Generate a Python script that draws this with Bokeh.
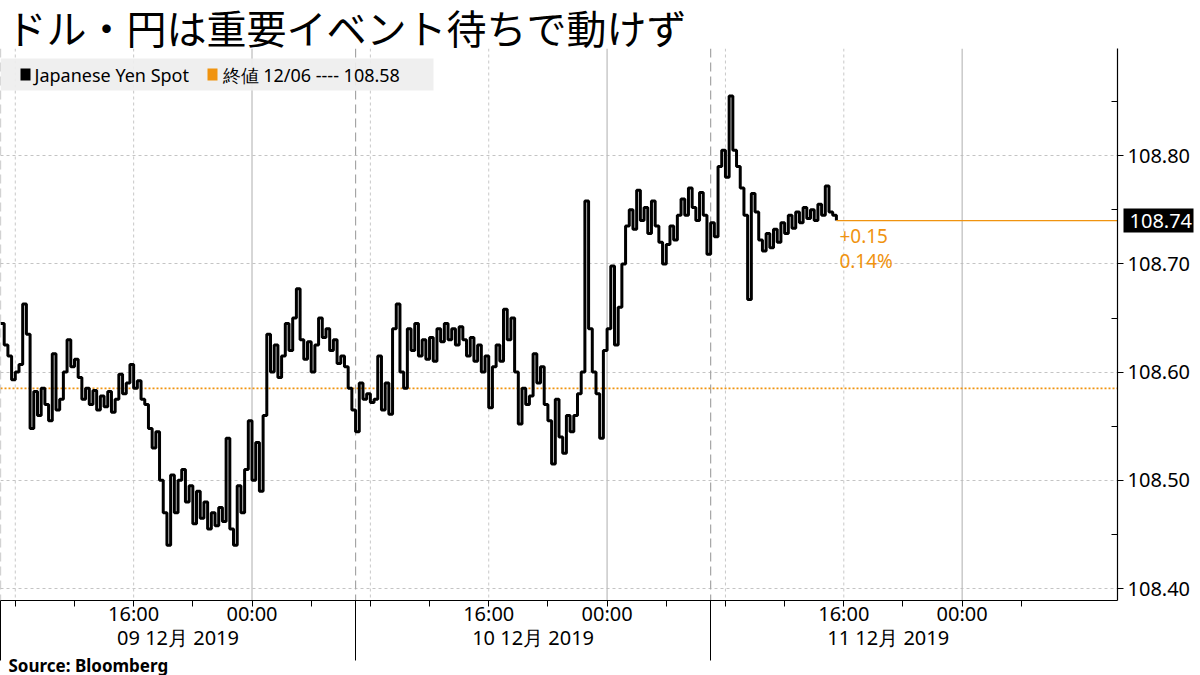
import pandas as pd
from bokeh.plotting import figure
from bokeh.models import (FixedTicker, Span, Label, BoxAnnotation, NumeralTickFormatter,
                          LinearAxis, Title)
from bokeh.embed import file_html
from bokeh.resources import INLINE

# ---------------- data ----------------
title_text = "ドル・円は重要イベント待ちで動けず"
series_name = "Japanese Yen Spot"
prev_close_text = "終値 12/06 ---- 108.58"
prev_close = 108.585
last_value = 108.74
change_abs = "+0.15"
change_pct = "0.14%"
source_text = "Source:  Bloomberg"

start_time = "2019-12-09 07:00"
step = "15min"
usdjpy = [
    108.645, 108.625, 108.615, 108.593,   # 12/09 07h
    108.600, 108.607, 108.663, 108.635,
    108.548, 108.582, 108.560, 108.585,
    108.570, 108.555, 108.617, 108.565,
    108.575, 108.600, 108.630, 108.605,
    108.612, 108.595, 108.575, 108.585,
    108.570, 108.583, 108.565, 108.578,
    108.568, 108.582, 108.563, 108.575,
    108.598, 108.580, 108.590, 108.607,   # 15h
    108.585, 108.592, 108.575, 108.570,
    108.548, 108.530, 108.545, 108.500,
    108.470, 108.440, 108.505, 108.470,
    108.500, 108.510, 108.480, 108.495,
    108.460, 108.490, 108.465, 108.480,
    108.455, 108.470, 108.458, 108.475,
    108.462, 108.539, 108.455, 108.440,
    108.495, 108.470, 108.510, 108.555,   # 23h
    108.500, 108.535, 108.490, 108.560,   # 12/10 00h
    108.635, 108.600, 108.625, 108.595,
    108.615, 108.645, 108.620, 108.650,
    108.677, 108.630, 108.612, 108.628,
    108.600, 108.625, 108.650, 108.632,
    108.640, 108.620, 108.630, 108.608,
    108.615, 108.605, 108.585, 108.565,
    108.545, 108.590, 108.575, 108.580,   # 07h
    108.572, 108.575, 108.615, 108.565,
    108.590, 108.561, 108.640, 108.663,
    108.600, 108.585, 108.640, 108.620,
    108.645, 108.615, 108.630, 108.612,
    108.632, 108.610, 108.640, 108.628,
    108.645, 108.630, 108.640, 108.625,
    108.642, 108.630, 108.615, 108.632,
    108.610, 108.625, 108.600, 108.615,
    108.567, 108.605, 108.625, 108.610,   # 16h
    108.658, 108.630, 108.650, 108.600,
    108.552, 108.585, 108.570, 108.578,
    108.617, 108.590, 108.605, 108.570,
    108.555, 108.515, 108.575, 108.540,
    108.525, 108.560, 108.545, 108.560,
    108.580, 108.600, 108.758, 108.640,
    108.600, 108.580, 108.539, 108.620,
    108.640, 108.698, 108.625, 108.660,   # 12/11 00h
    108.700, 108.735, 108.750, 108.732,
    108.768, 108.740, 108.752, 108.728,
    108.758, 108.735, 108.720, 108.700,
    108.718, 108.735, 108.722, 108.745,
    108.760, 108.745, 108.770, 108.752,
    108.740, 108.766, 108.745, 108.709,
    108.738, 108.725, 108.790, 108.805,   # 07h
    108.780, 108.855, 108.805, 108.790,
    108.770, 108.745, 108.667, 108.765,
    108.748, 108.722, 108.712, 108.728,
    108.715, 108.732, 108.720, 108.738,
    108.728, 108.745, 108.733, 108.748,
    108.738, 108.752, 108.742, 108.750,
    108.740, 108.755, 108.745, 108.772,
    108.748, 108.745, 108.740,            # 15h
]
times = pd.date_range(start_time, periods=len(usdjpy), freq=step)

y_ticks = [108.40, 108.50, 108.60, 108.70, 108.80]
y_minor = [108.45, 108.55, 108.65, 108.75, 108.85]
y_lo, y_hi = 108.389, 108.899
x_lo, x_hi = pd.Timestamp("2019-12-09 07:00"), pd.Timestamp("2019-12-12 10:30")

day_starts = pd.to_datetime(["2019-12-09 07:00", "2019-12-10 07:00", "2019-12-11 07:00"])
day_mids = pd.to_datetime(["2019-12-09 19:00", "2019-12-10 19:00", "2019-12-11 19:00"])
date_label_texts = ["09 12月 2019", "10 12月 2019", "11 12月 2019"]
midnights = pd.to_datetime(["2019-12-10 00:00", "2019-12-11 00:00", "2019-12-12 00:00"])
dotted_times = pd.to_datetime(["2019-12-09 08:00", "2019-12-09 16:00", "2019-12-10 08:00",
                               "2019-12-10 16:00", "2019-12-11 08:00", "2019-12-11 16:00"])
x_tick_times = pd.date_range("2019-12-09 08:00", "2019-12-12 04:00", freq="4h")
x_tick_labels = {"16:00": "16:00", "00:00": "00:00"}

EPOCH = pd.Timestamp("1970-01-01")
def ms(t):
    return int((pd.Timestamp(t) - EPOCH) // pd.Timedelta("1ms"))

ORANGE = "#f0930f"
JP = "Noto Sans CJK JP"
LAT = "Noto Sans"

# ---------------- layout numbers ----------------
W, H = 1200, 675
FRAME_W = 1117
TOP, BOTTOM = 48, 600

p = figure(width=W, height=H, x_axis_type="datetime", y_axis_location="right",
           x_range=(ms(x_lo), ms(x_hi)), y_range=(y_lo, y_hi),
           output_backend="svg", toolbar_location=None,
           min_border_left=0, min_border_right=W - FRAME_W,
           min_border_top=TOP, min_border_bottom=H - BOTTOM)
p.outline_line_color = None
p.background_fill_color = "white"
p.border_fill_color = "white"

# title
p.title.text = title_text
p.title.align = "left"
p.title.offset = 6
p.title.standoff = -14
p.title.text_font = JP
p.title.text_font_size = "40px"
p.title.text_font_style = "normal"
p.title.text_color = "black"

# grids
p.xgrid.visible = False
p.ygrid.ticker = FixedTicker(ticks=y_ticks)
p.ygrid.grid_line_color = "#c4c4c4"
p.ygrid.grid_line_dash = "3 3"
p.ygrid.grid_line_width = 1

for t in dotted_times:
    p.add_layout(Span(location=ms(t), dimension="height", line_color="#c8c8c8",
                      line_dash="3 3", line_width=1, level="underlay"))
for t in midnights:
    p.add_layout(Span(location=ms(t), dimension="height", line_color="#bcbcbc",
                      line_width=1.2, level="underlay"))
for t in day_starts:
    p.add_layout(Span(location=ms(t), dimension="height", line_color="#a5a5a5",
                      line_dash="9 5", line_width=1.2, level="underlay"))

p.add_layout(Span(location=prev_close, dimension="width", line_color=ORANGE,
                  line_dash="2 2", line_width=1.6, level="underlay"))

# data
p.step(x=times, y=usdjpy, mode="after", line_color="black", line_width=3)
p.segment(x0=[ms(times[-1])], y0=[last_value], x1=[ms(x_hi)], y1=[last_value],
          line_color=ORANGE, line_width=1.3)

# primary x axis: 4-hour ticks, 16:00/00:00 labels, long day separators (minor ticks
# drawn outward through a negative inward length so they do not push the labels down)
xa = p.xaxis[0]
xa.ticker = FixedTicker(ticks=[ms(t) for t in x_tick_times],
                        minor_ticks=[ms(t) for t in day_starts])
xa.major_label_overrides = {ms(t): x_tick_labels.get(t.strftime("%H:%M"), "")
                            for t in x_tick_times}
xa.major_tick_out = 6
xa.major_tick_in = 0
xa.minor_tick_out = 0
xa.minor_tick_in = -60
xa.major_label_standoff = -7
xa.major_label_text_font = LAT
xa.major_label_text_font_size = "20px"
xa.major_label_text_color = "black"
xa.axis_line_color = "black"
xa.major_tick_line_color = "black"
xa.minor_tick_line_color = "black"
xa.minor_tick_line_width = 1
xa.axis_line_width = 1.2

# date labels (second axis below)
date_axis = LinearAxis(ticker=FixedTicker(ticks=[ms(t) for t in day_mids], minor_ticks=[]),
                       major_label_overrides={ms(t): s for t, s in zip(day_mids, date_label_texts)},
                       major_tick_out=0, major_tick_in=0, minor_tick_out=0, minor_tick_in=0,
                       major_tick_line_color=None, minor_tick_line_color=None,
                       axis_line_color=None, major_label_standoff=-6,
                       major_label_text_font=LAT, major_label_text_font_size="20px",
                       major_label_text_color="black")
p.add_layout(date_axis, "below")

# source
p.add_layout(Title(text=source_text, align="left", offset=8, standoff=-4,
                   text_font=LAT, text_font_size="17px", text_font_style="bold",
                   text_color="black"), "below")

# y axis
ya = p.yaxis[0]
ya.ticker = FixedTicker(ticks=y_ticks, minor_ticks=y_minor)
ya.formatter = NumeralTickFormatter(format="0.00")
ya.major_tick_out = 6
ya.major_tick_in = 0
ya.minor_tick_in = 6
ya.minor_tick_out = 0
ya.major_label_standoff = 4
ya.major_label_text_font = LAT
ya.major_label_text_font_size = "20px"
ya.major_label_text_color = "black"
ya.axis_line_color = "black"
ya.axis_line_width = 1.2
ya.major_tick_line_color = "black"
ya.minor_tick_line_color = "black"

# last value tag: an outer right axis whose single tick reaches back over the label column
tag_axis = LinearAxis(ticker=FixedTicker(ticks=[last_value], minor_ticks=[]),
                      formatter=NumeralTickFormatter(format="0.00"),
                      major_tick_out=0, major_tick_in=70, minor_tick_out=0, minor_tick_in=0,
                      major_tick_line_color="black", major_tick_line_width=24,
                      major_tick_line_cap="butt", axis_line_color=None,
                      major_label_standoff=-64,
                      major_label_text_font=LAT, major_label_text_font_size="20px",
                      major_label_text_color="white")
p.add_layout(tag_axis, "right")

# legend (inside the frame, screen units from frame bottom-left)
def sy(canvas_y):
    return BOTTOM - canvas_y

p.add_layout(BoxAnnotation(left=0, right=433, bottom=sy(90), top=sy(58),
                           left_units="screen", right_units="screen",
                           bottom_units="screen", top_units="screen",
                           fill_color="#eeeeee", fill_alpha=0.92, line_color=None))
p.add_layout(BoxAnnotation(left=20, right=30, bottom=sy(80), top=sy(68),
                           left_units="screen", right_units="screen",
                           bottom_units="screen", top_units="screen",
                           fill_color="black", fill_alpha=1, line_color=None))
p.add_layout(BoxAnnotation(left=207, right=217, bottom=sy(80), top=sy(68),
                           left_units="screen", right_units="screen",
                           bottom_units="screen", top_units="screen",
                           fill_color=ORANGE, fill_alpha=1, line_color=None))
p.add_layout(Label(x=34, y=sy(74), x_units="screen", y_units="screen", text=series_name,
                   text_align="left", text_baseline="middle",
                   text_font=LAT, text_font_size="18px", text_color="black"))
p.add_layout(Label(x=222, y=sy(74), x_units="screen", y_units="screen", text=prev_close_text,
                   text_align="left", text_baseline="middle",
                   text_font=LAT, text_font_size="18px", text_color="black"))

# change annotations
p.add_layout(Label(x=ms(times[-1]), y=sy(235), x_units="data", y_units="screen", text=change_abs,
                   x_offset=3, text_align="left", text_baseline="middle",
                   text_font=LAT, text_font_size="19px", text_color=ORANGE))
p.add_layout(Label(x=ms(times[-1]), y=sy(260), x_units="data", y_units="screen", text=change_pct,
                   x_offset=3, text_align="left", text_baseline="middle",
                   text_font=LAT, text_font_size="19px", text_color=ORANGE))

open("out.html", "w").write(file_html(p, INLINE))
